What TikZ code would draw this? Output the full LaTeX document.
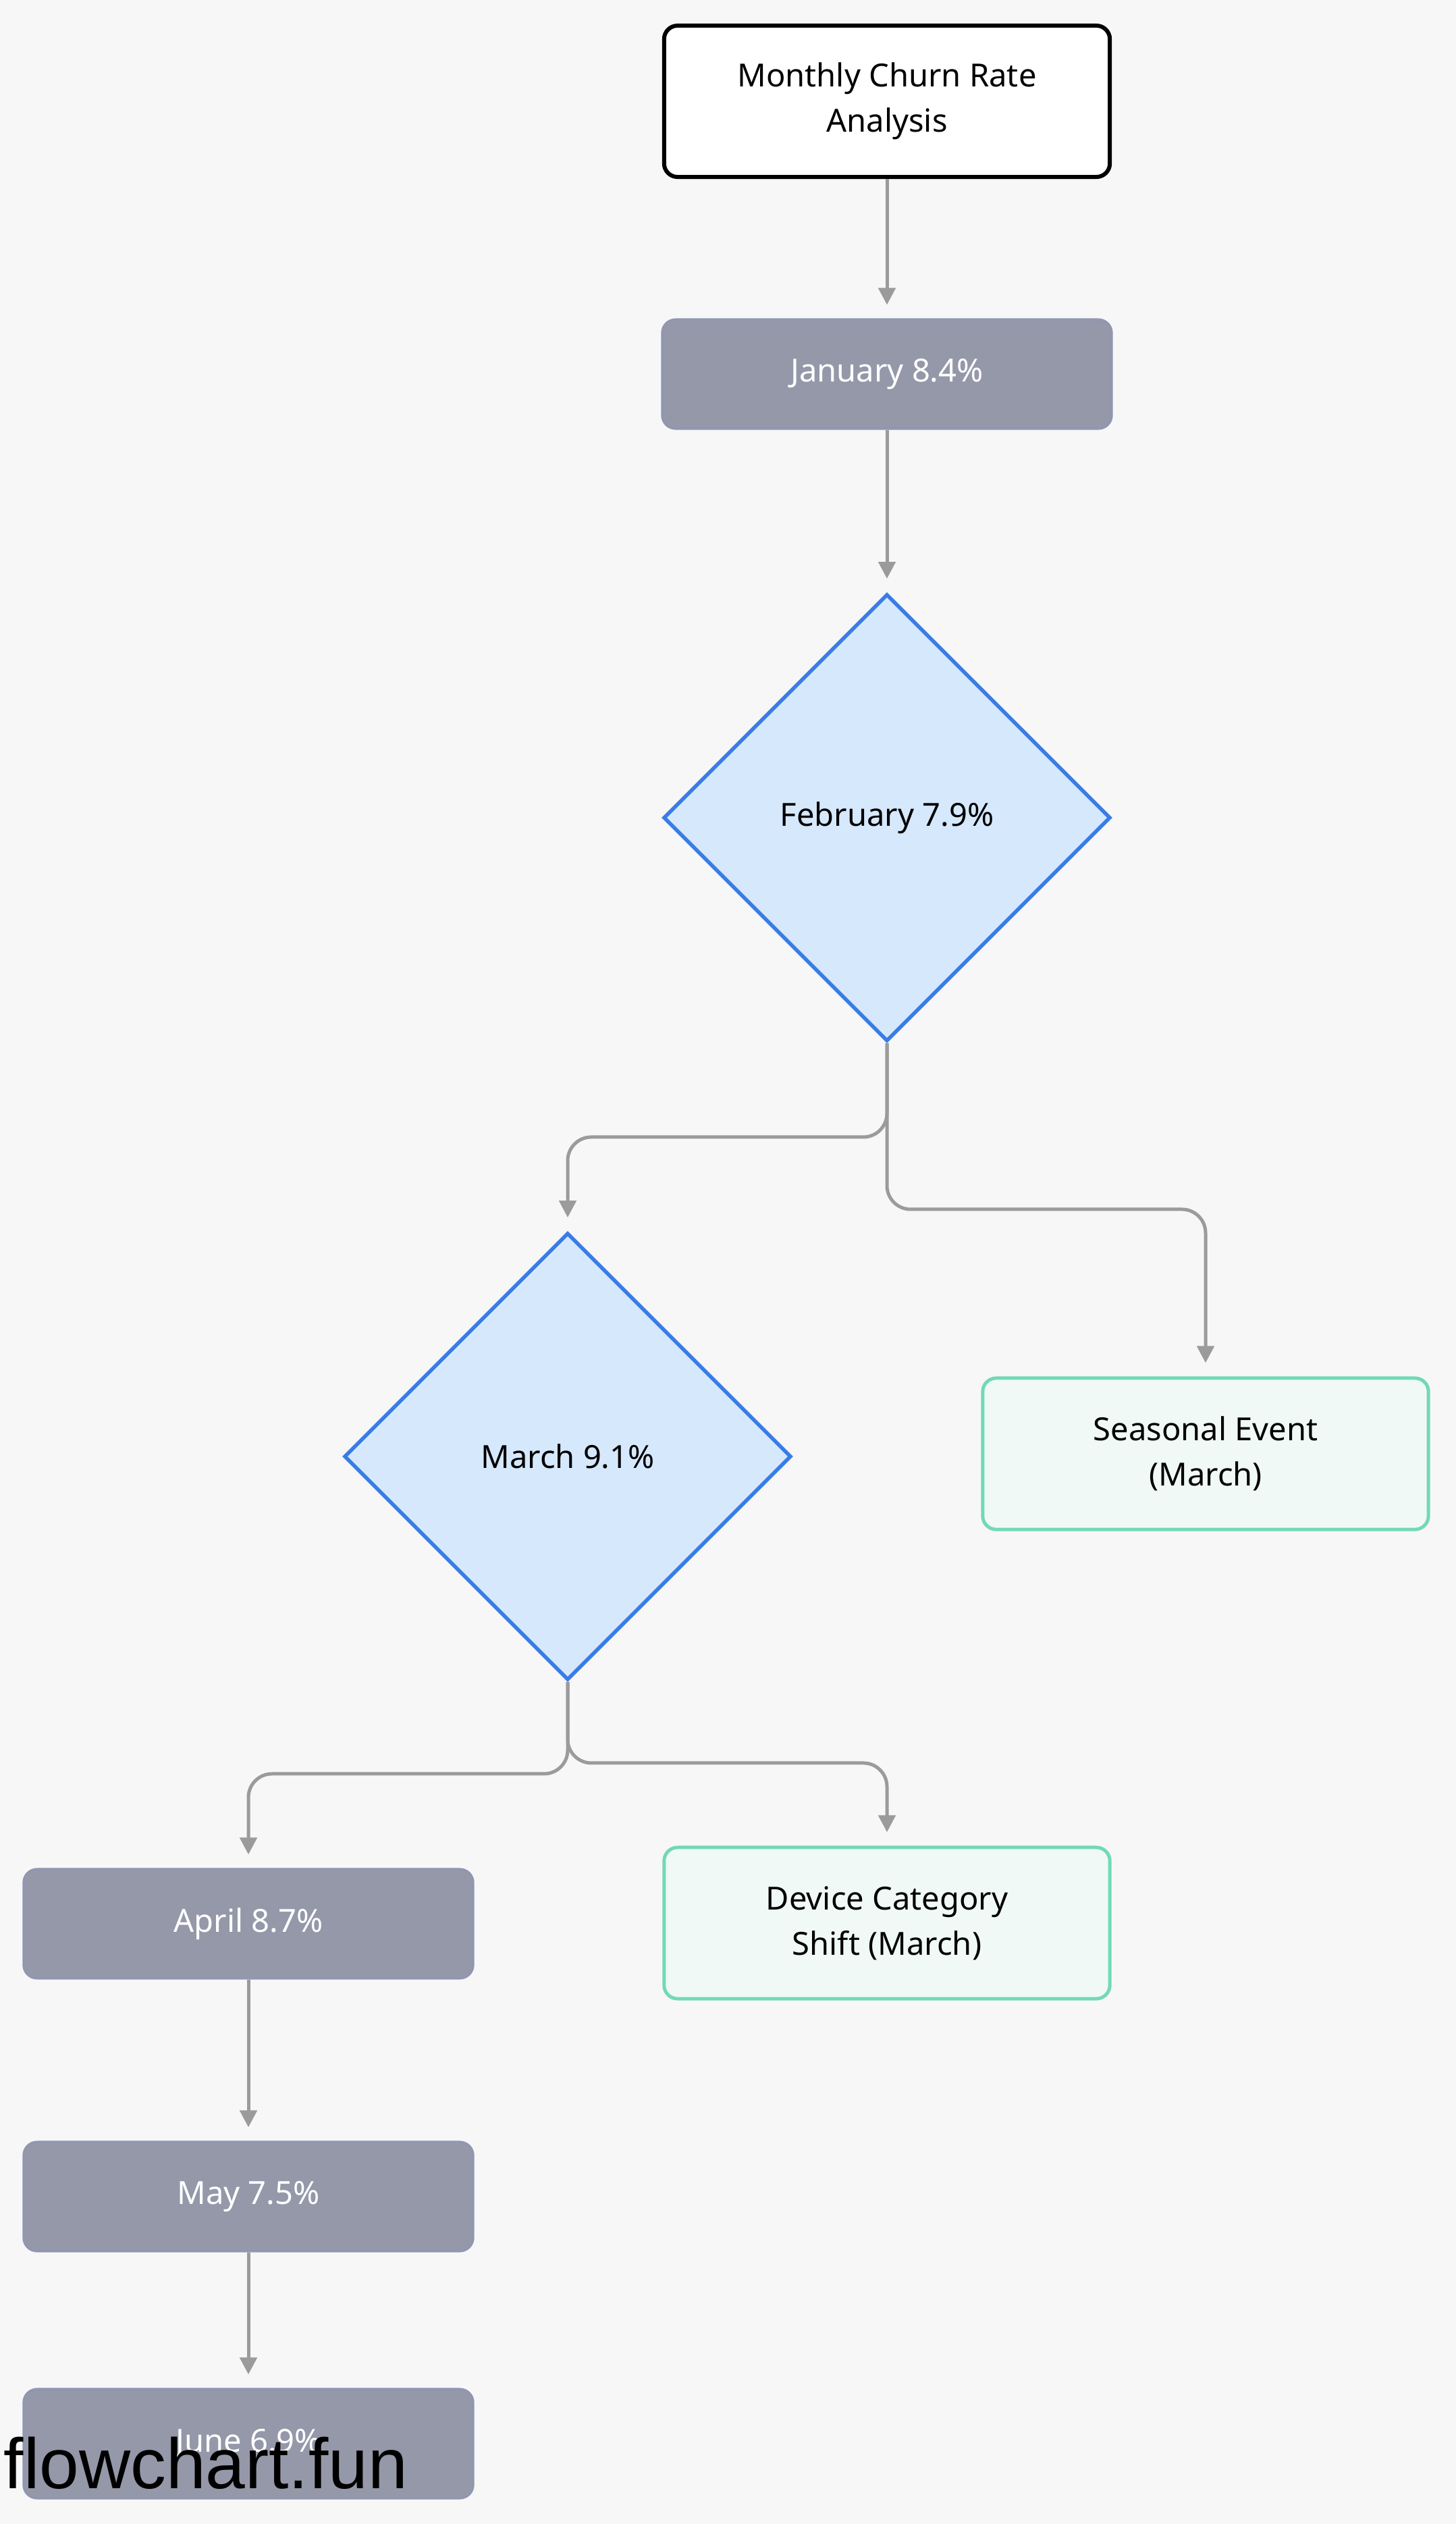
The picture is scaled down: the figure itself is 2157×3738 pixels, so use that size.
\documentclass[tikz,border=0pt]{standalone}
\usepackage{fontspec}
\setmainfont{Noto Sans}
\newfontfamily\markfont{Liberation Sans}
\usetikzlibrary{shapes.geometric,arrows.meta}

\definecolor{bgcol}{HTML}{F7F7F7}
\definecolor{monthfill}{HTML}{9598A9}
\definecolor{monthline}{HTML}{9096B3}
\definecolor{checkfill}{HTML}{D6E8FC}
\definecolor{checkline}{HTML}{3A7CE6}
\definecolor{causefill}{HTML}{F0F9F6}
\definecolor{causeline}{HTML}{72D9B5}
\definecolor{linkcol}{HTML}{9B9B9B}

\begin{document}
\begin{tikzpicture}[x=0.01cm,y=-0.01cm,
						every node/.style={font=\fontsize{13.4}{19}\selectfont,align=center},
						start/.style={draw=black,fill=white,line width=0.06cm,
						rounded corners=0.2cm,minimum width=6.6cm,minimum height=2.24cm},
						month/.style={draw=monthline,fill=monthfill,text=white,line width=0.03cm,
						rounded corners=0.2cm,minimum width=6.66cm,minimum height=1.62cm},
						check/.style={diamond,aspect=1,draw=checkline,fill=checkfill,line width=0.055cm,
						minimum width=6.62cm,minimum height=6.62cm,inner sep=0pt},
						cause/.style={draw=causeline,fill=causefill,line width=0.05cm,
						rounded corners=0.2cm,minimum width=6.6cm,minimum height=2.24cm},
						link/.style={draw=linkcol,line width=0.05cm,rounded corners=0.35cm,
						-{Triangle[length=0.25cm,width=0.25cm]},shorten >=0.2cm}]

		\fill[bgcol] (0,0) rectangle (2157,3738);

		\node[start] (title) at (1314,150) {Monthly Churn Rate\\Analysis};
		\node[month] (jan) at (1314,554) {January 8.4\%};
		\node[check] (feb) at (1314,1211) {February 7.9\%};
		\node[check] (mar) at (841,2157) {March 9.1\%};
		\node[cause] (season) at (1786,2153) {Seasonal Event\\(March)};
		\node[month] (apr) at (368,2849) {April 8.7\%};
		\node[cause] (device) at (1314,2848) {Device Category\\Shift (March)};
		\node[month] (may) at (368,3253) {May 7.5\%};
		\node[month] (jun) at (368,3619) {June 6.9\%};

		\draw[link] (title) -- (jan);
		\draw[link] (jan) -- (feb);
		\draw[link] (feb.south) -- ++(0,139) -| (mar.north);
		\draw[link] (feb.south) -- ++(0,246) -| (season.north);
		\draw[link] (mar.south) -- ++(0,136) -| (apr.north);
		\draw[link] (mar.south) -- ++(0,120) -| (device.north);
		\draw[link] (apr) -- (may);
		\draw[link] (may) -- (jun);

		\node[anchor=base west,inner sep=0pt,font=\markfont\fontsize{30}{30}\selectfont] (mark) at (5,3685) {flowchart.fun};

\end{tikzpicture}
\end{document}
